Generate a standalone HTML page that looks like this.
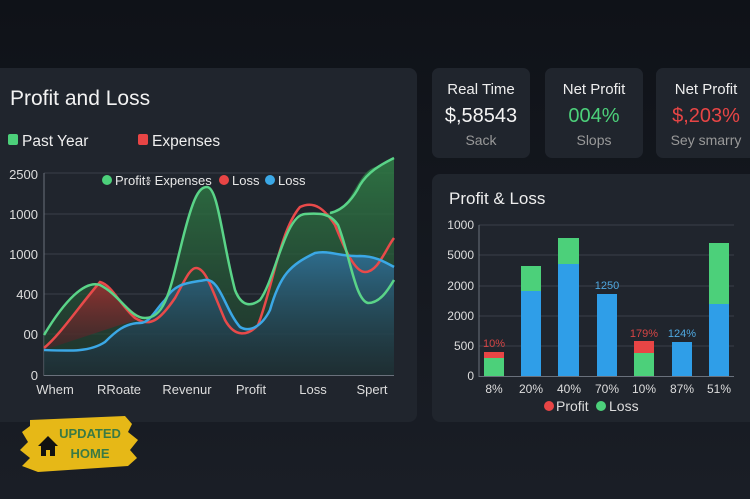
<!DOCTYPE html>
<html><head><meta charset="utf-8"><style>
html,body{margin:0;padding:0;width:750px;height:499px;overflow:hidden;background:#161a21;}
svg{display:block;font-family:"Liberation Sans",sans-serif;}
</style></head><body>
<svg width="750" height="499" viewBox="0 0 750 499">
<defs>
<linearGradient id="bg" x1="0" y1="0" x2="0" y2="1"><stop offset="0" stop-color="#0f1218"/><stop offset="1" stop-color="#1a1e26"/></linearGradient>
<linearGradient id="gf" x1="0" y1="0" x2="0" y2="1"><stop offset="0" stop-color="#2f7a45" stop-opacity=".9"/><stop offset="1" stop-color="#1f3a2c" stop-opacity=".6"/></linearGradient>
<linearGradient id="bf" x1="0" y1="0" x2="0" y2="1"><stop offset="0" stop-color="#2f6f96" stop-opacity=".9"/><stop offset="1" stop-color="#1d2a38" stop-opacity=".5"/></linearGradient>
<linearGradient id="rf" x1="0" y1="0" x2="0" y2="1"><stop offset="0" stop-color="#9a3030" stop-opacity=".9"/><stop offset="1" stop-color="#4a2228" stop-opacity=".6"/></linearGradient>
</defs>
<rect width="750" height="499" fill="url(#bg)"/>
<!-- left panel -->
<rect x="-10" y="68" width="427" height="354" rx="8" fill="#20252d"/>
<text x="10" y="105" fill="#f2f2f2" font-size="21">Profit and Loss</text>
<rect x="8" y="134" width="10" height="11" rx="2" fill="#4cd07a"/>
<text x="22" y="146" fill="#eee" font-size="15.5">Past Year</text>
<rect x="138" y="134" width="10" height="11" rx="2" fill="#e84545"/>
<text x="152" y="146" fill="#eee" font-size="15.5">Expenses</text>
<g stroke="#3a4049" stroke-width="1">
<line x1="44" y1="173" x2="394" y2="173"/><line x1="44" y1="214" x2="394" y2="214"/>
<line x1="44" y1="254" x2="394" y2="254"/><line x1="44" y1="294" x2="394" y2="294"/>
<line x1="44" y1="334" x2="394" y2="334"/>
</g>
<line x1="44" y1="173" x2="44" y2="376" stroke="#6a717c"/>
<line x1="44" y1="375.5" x2="394" y2="375.5" stroke="#6a717c"/>
<g fill="#ddd" font-size="13" text-anchor="end">
<text x="38" y="179">2500</text><text x="38" y="219">1000</text><text x="38" y="259">1000</text>
<text x="38" y="299">400</text><text x="38" y="339">00</text><text x="38" y="380">0</text>
</g>
<!-- fills -->
<path d="M44,335 C65,300 85,280 100,285 C120,295 130,318 145,318 C165,318 170,290 180,250 C192,200 198,187 207,187 C218,187 222,240 235,290 C242,308 252,306 260,300 C275,280 285,220 305,215 C320,212 330,215 340,210 C355,195 360,172 375,167 C385,163 390,160 394,158 L394,375 L44,375 Z" fill="url(#gf)"/>
<path d="M44,348 C60,335 80,305 100,282 C115,290 125,310 145,318 L120,325 L44,350 Z" fill="url(#rf)"/>
<path d="M44,350 C70,351 90,352 105,342 C115,332 125,323 140,323 C150,323 155,310 165,300 C175,282 190,283 205,280 C220,278 225,310 240,327 C250,333 262,326 270,310 C280,275 290,265 315,253 C330,250 340,257 360,256 C375,256 385,262 394,267 L394,375 L44,375 Z" fill="url(#bf)"/>
<!-- lines -->
<path d="M44,348 C60,335 80,305 100,282 C112,285 120,305 135,318 C150,328 160,320 175,298 C185,280 190,268 196,268 C206,268 212,290 225,320 C235,338 248,336 258,325 C272,290 280,230 300,207 C315,200 325,210 335,225 C345,250 355,272 365,272 C378,272 385,250 394,238" fill="none" stroke="#e84a4a" stroke-width="2.5"/>
<path d="M44,350 C70,351 90,352 105,342 C115,332 125,323 140,323 C150,323 155,310 165,300 C175,282 190,283 205,280 C220,278 225,310 240,327 C250,333 262,326 270,310 C280,275 290,265 315,253 C330,250 340,257 360,256 C375,256 385,262 394,267" fill="none" stroke="#3ba8e6" stroke-width="2.5"/>
<path d="M44,335 C65,300 85,280 100,285 C120,295 130,318 145,318 C165,318 170,290 180,250 C192,200 198,187 207,187 C218,187 222,240 235,290 C242,308 252,306 260,300 C275,280 285,215 305,214 C320,213 330,213 338,225 C350,255 355,300 368,303 C380,303 388,290 394,280" fill="none" stroke="#5ad488" stroke-width="2.5"/>
<path d="M330,213 C345,210 355,195 360,185 C368,172 380,165 394,158" fill="none" stroke="#5ad488" stroke-width="2.5"/>
<!-- inner legend -->
<circle cx="107" cy="180" r="5" fill="#4cd07a"/><text x="115" y="185" fill="#e8e8e8" font-size="13">Profit៖ Expenses</text>
<circle cx="224" cy="180" r="5" fill="#e84545"/><text x="232" y="185" fill="#e8e8e8" font-size="13">Loss</text>
<circle cx="270" cy="180" r="5" fill="#3ba8e6"/><text x="278" y="185" fill="#e8e8e8" font-size="13">Loss</text>
<g fill="#ddd" font-size="13" text-anchor="middle">
<text x="55" y="394">Whem</text><text x="119" y="394">RRoate</text><text x="187" y="394">Revenur</text>
<text x="251" y="394">Profit</text><text x="313" y="394">Loss</text><text x="372" y="394">Spert</text>
</g>
<!-- cards -->
<rect x="432" y="68" width="98" height="90" rx="7" fill="#20252d"/>
<rect x="545" y="68" width="98" height="90" rx="7" fill="#20252d"/>
<rect x="656" y="68" width="104" height="90" rx="7" fill="#20252d"/>
<g text-anchor="middle">
<text x="481" y="94" fill="#eee" font-size="15">Real Time</text>
<text x="481" y="122" fill="#f4f4f4" font-size="20">$,58543</text>
<text x="481" y="145" fill="#999" font-size="14">Sack</text>
<text x="594" y="94" fill="#eee" font-size="15">Net Profit</text>
<text x="594" y="122" fill="#4cd07a" font-size="20">004%</text>
<text x="594" y="145" fill="#999" font-size="14">Slops</text>
<text x="706" y="94" fill="#eee" font-size="15">Net Profit</text>
<text x="706" y="122" fill="#e84545" font-size="20">$,203%</text>
<text x="706" y="145" fill="#999" font-size="14">Sey smarry</text>
</g>
<!-- right panel -->
<rect x="432" y="174" width="330" height="248" rx="8" fill="#20252d"/>
<text x="449" y="204" fill="#eee" font-size="17">Profit &amp; Loss</text>
<g stroke="#3a4049"><line x1="479" y1="225" x2="734" y2="225"/><line x1="479" y1="255" x2="734" y2="255"/><line x1="479" y1="286" x2="734" y2="286"/><line x1="479" y1="316" x2="734" y2="316"/><line x1="479" y1="346" x2="734" y2="346"/></g>
<line x1="479" y1="225" x2="479" y2="377" stroke="#6a717c"/>
<line x1="479" y1="376.5" x2="734" y2="376.5" stroke="#6a717c"/>
<g fill="#ddd" font-size="12" text-anchor="end">
<text x="474" y="229">1000</text><text x="474" y="259">5000</text><text x="474" y="290">2000</text>
<text x="474" y="320">2000</text><text x="474" y="350">500</text><text x="474" y="380">0</text>
</g>
<rect x="484" y="352" width="20" height="6" fill="#e84545"/><rect x="484" y="358" width="20" height="18" fill="#4cd07a"/>
<rect x="521" y="266" width="20" height="25" fill="#4cd07a"/><rect x="521" y="291" width="20" height="85" fill="#2f9ee8"/>
<rect x="558" y="238" width="21" height="26" fill="#4cd07a"/><rect x="558" y="264" width="21" height="112" fill="#2f9ee8"/>
<rect x="597" y="294" width="20" height="82" fill="#2f9ee8"/>
<rect x="634" y="341" width="20" height="12" fill="#e84545"/><rect x="634" y="353" width="20" height="23" fill="#4cd07a"/>
<rect x="672" y="342" width="20" height="34" fill="#2f9ee8"/>
<rect x="709" y="243" width="20" height="61" fill="#4cd07a"/><rect x="709" y="304" width="20" height="72" fill="#2f9ee8"/>
<g font-size="11" text-anchor="middle">
<text x="494" y="347" fill="#d64545">10%</text>
<text x="607" y="289" fill="#4fa8e0">1250</text>
<text x="644" y="337" fill="#d64545">179%</text>
<text x="682" y="337" fill="#4fa8e0">124%</text>
</g>
<g fill="#ddd" font-size="12" text-anchor="middle">
<text x="494" y="393">8%</text><text x="531" y="393">20%</text><text x="569" y="393">40%</text>
<text x="607" y="393">70%</text><text x="644" y="393">10%</text><text x="682" y="393">87%</text><text x="719" y="393">51%</text>
</g>
<circle cx="549" cy="406" r="5" fill="#e84545"/><text x="556" y="411" fill="#ddd" font-size="14">Profit</text>
<circle cx="601" cy="406" r="5" fill="#4cd07a"/><text x="609" y="411" fill="#ddd" font-size="14">Loss</text>
<!-- logo -->
<path d="M30,420 L125,416 L132,424 L128,432 L138,440 L130,450 L137,458 L128,466 L38,472 L22,466 L30,458 L20,450 L28,442 L22,432 L30,426 Z" fill="#e6b817"/>
<path d="M48,436 L38,446 L41,446 L41,456 L55,456 L55,446 L58,446 Z M46,450 h4 v6 h-4 Z" fill="#111"/>
<text x="90" y="438" fill="#3a7a44" font-size="13" font-weight="bold" text-anchor="middle">UPDATED</text>
<text x="90" y="458" fill="#3a7a44" font-size="13" font-weight="bold" text-anchor="middle">HOME</text>
</svg>
</body></html>
